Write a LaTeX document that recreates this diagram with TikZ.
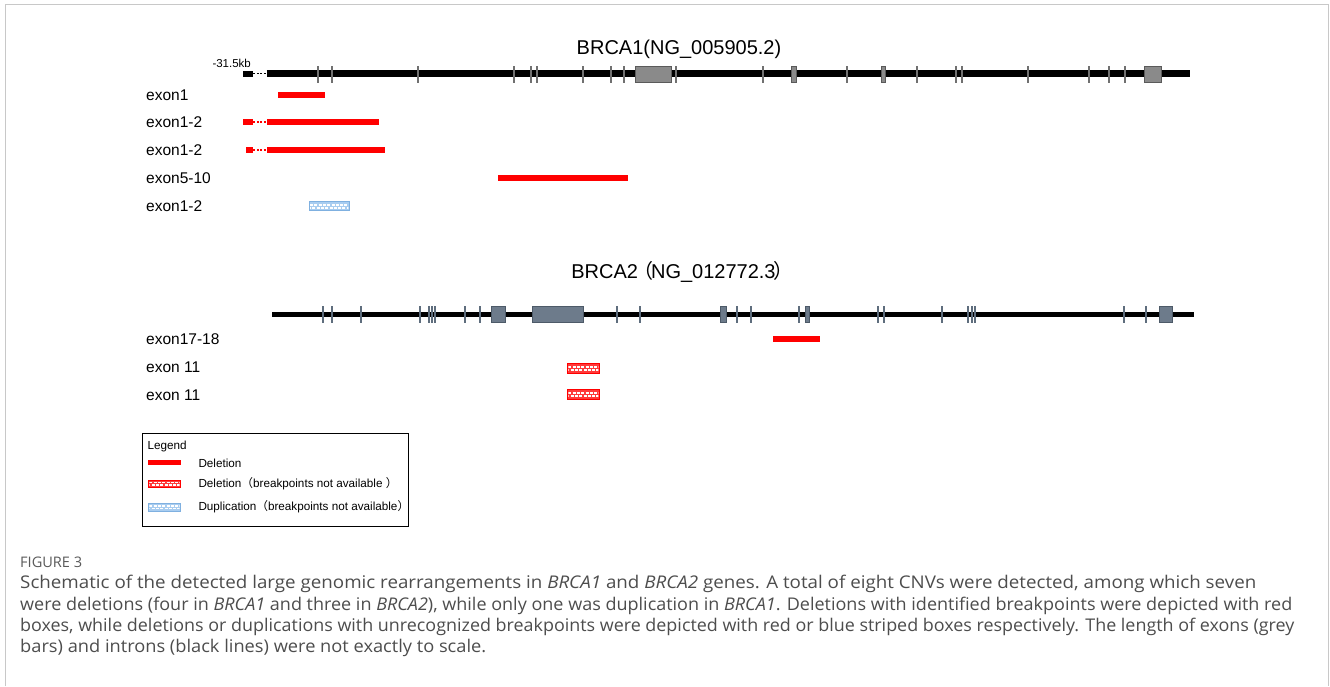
\documentclass[tikz,border=0pt]{standalone}
\usepackage{fontspec}
\usepackage{graphicx}
\setmainfont{Liberation Sans}
\newfontfamily\cjk{Noto Sans CJK SC}
\newfontfamily\capfont{Open Sans}
\definecolor{exA}{HTML}{8A8A8A}
\definecolor{exAd}{HTML}{5A5A5A}
\definecolor{tkA}{HTML}{707070}
\definecolor{exB}{HTML}{6D7B8B}
\definecolor{exBd}{HTML}{4D5A68}
\definecolor{tkB}{HTML}{5E6D7D}
\definecolor{delred}{HTML}{FF0000}
\definecolor{stred}{HTML}{FF3A3A}
\definecolor{dupfill}{HTML}{A9CDF0}
\definecolor{dupdraw}{HTML}{7FB0E0}
\definecolor{capgrey}{HTML}{4D4D4D}
\definecolor{figgrey}{HTML}{5A5A5A}
\definecolor{framec}{HTML}{C8C8C8}
\newcommand\mystripebox[6]{%
  \fill[#5] (#1,#2) rectangle (#3,#4);
  \begin{scope}
    \clip ({#1+1},{#2+1}) rectangle ({#3-1},{#4-1});
    \draw[white,line width=1.6pt,dash pattern=on 3pt off 1.3pt] ({#1+1},{#2+0.36*(#4-#2)}) -- (#3,{#2+0.36*(#4-#2)});
    \draw[white,line width=1.6pt,dash pattern=on 3pt off 1.3pt,dash phase=2pt] ({#1+1},{#2+0.68*(#4-#2)}) -- (#3,{#2+0.68*(#4-#2)});
  \end{scope}
  \draw[#6,line width=0.8pt] (#1,#2) rectangle (#3,#4);
}
\newcommand\capln[2]{\resizebox{#1pt}{\height}{\capfont\fontsize{17.5}{20}\selectfont #2}}
\begin{document}
\begin{tikzpicture}[x=1pt,y=-1pt,
  intron/.style={line width=6.5pt,black},
  ex1/.style={fill=exA,draw=exAd,line width=0.7pt},
  tk1/.style={draw=tkA,line width=2pt},
  ex2/.style={fill=exB,draw=exBd,line width=0.7pt},
  tk2/.style={draw=tkB,line width=2pt},
  delbar/.style={fill=delred},
  deldot/.style={draw=delred,line width=1.3pt,dash pattern=on 2pt off 1.5pt},
  lbl/.style={font=\fontsize{15.5}{18}\selectfont,inner sep=0pt,anchor=west},
  ttl/.style={font=\fontsize{20}{24}\selectfont,inner sep=0pt,anchor=base},
  leg/.style={font=\fontsize{11.7}{14}\selectfont,inner sep=0pt,anchor=base west},
  capline/.style={text=capgrey,inner sep=0pt,anchor=base west}]
\useasboundingbox (0,0) rectangle (1330,686);
\fill[white] (0,0) rectangle (1330,686);
% frame
\draw[framec,line width=1.5pt] (5.5,686) -- (5.5,4.5) -- (1328.5,4.5) -- (1328.5,686);

% ---------------- BRCA1 ----------------
\node[ttl] (t1) at (679,54) {BRCA1(NG\_005905.2)};
\node[font=\fontsize{11.5}{14}\selectfont,inner sep=0pt] (kb) at (231.7,63) {-31.5kb};
\fill (242.7,70.5) rectangle (253.3,77);
\draw[line width=1.2pt,dash pattern=on 2pt off 1.5pt] (253.3,73.7) -- (266.7,73.7);
\draw[intron] (266.7,73.7) -- (1190,73.7);
\foreach \x in {318.3,332.3,418.3,514.3,531,537.3,583.3,611,624.3,676,762.7,847.3,917.3,956,961.7,1027.7,1088.7,1109,1125.3}
  \draw[tk1] (\x,66) -- (\x,82.5);
\draw[ex1] (635,66.7) rectangle (671.7,82.3);
\draw[ex1] (791.7,66) rectangle (796.7,82.5);
\draw[ex1] (881,66) rectangle (885,82.5);
\draw[ex1] (1144,66.7) rectangle (1161,82.3);

\node[lbl] (r1) at (146,95) {exon1};
\node[lbl] (r2) at (146,122.5) {exon1-2};
\node[lbl] (r3) at (146,150.5) {exon1-2};
\node[lbl] (r4) at (146,178) {exon5-10};
\node[lbl] (r5) at (146,206) {exon1-2};

\fill[delbar] (278.3,91.5) rectangle (325,97.5);
\fill[delbar] (242.7,119) rectangle (253.3,125);
\draw[deldot] (253.3,122) -- (266.7,122);
\fill[delbar] (266.7,119) rectangle (379,125);
\fill[delbar] (246,147) rectangle (253.3,153);
\draw[deldot] (253.3,150) -- (266.7,150);
\fill[delbar] (266.7,147) rectangle (385,153);
\fill[delbar] (498,175) rectangle (628,181);
\mystripebox{309}{201.7}{349.3}{210.7}{dupfill}{dupdraw}

% ---------------- BRCA2 ----------------
\node[ttl] (t2) at (679,278) {BRCA2\kern-5pt{\cjk （}\kern-2pt NG\_012772.3\kern-2pt{\cjk ）}\kern-7pt};
\draw[intron,line width=5.8pt] (272.3,314.5) -- (1194.3,314.5);
\foreach \x in {323.3,332.3,361,420.3,429.3,431.7,435,464.7,479.7,617.3,640,737.3,750.7,799,877.7,884,941.7,968.3,971.7,975,1124.3,1146}
  \draw[tk2] (\x,306) -- (\x,322.7);
\draw[ex2] (491.7,306) rectangle (505,322.7);
\draw[ex2] (532.3,306) rectangle (583.3,322.7);
\draw[ex2] (720.7,306) rectangle (726.7,322.7);
\draw[ex2] (805.3,306) rectangle (809,322.7);
\draw[ex2] (1159.3,306) rectangle (1172.7,322.7);

\node[lbl] (s1) at (146,339.5) {exon17-18};
\node[lbl] (s2) at (146,367.5) {exon 11};
\node[lbl] (s3) at (146,395) {exon 11};
\fill[delbar] (773,336) rectangle (820,342);
\mystripebox{567.3}{363.3}{599.3}{373.3}{stred}{delred}
\mystripebox{567.3}{389.3}{599.3}{399.3}{stred}{delred}

% ---------------- Legend ----------------
\draw[black,line width=1pt] (142.7,433.3) rectangle (408.3,526.7);
\node[leg] (lg) at (147.3,449.5) {Legend};
\fill[delbar] (148,460.2) rectangle (180.7,464.5);
\node[leg] (lg1) at (198.3,467) {Deletion};
\mystripebox{148.3}{480}{180.7}{487.3}{stred}{delred}
\node[leg] (lg2) at (198.3,487.5) {Deletion{\cjk （}breakpoints not available {\cjk ）}};
\mystripebox{148.3}{503.3}{180.7}{511}{dupfill}{dupdraw}
\node[leg] (lg3) at (198.3,510.5) {Duplication{\cjk （}breakpoints not available{\cjk ）}};

% ---------------- Caption ----------------
\node[inner sep=0pt,anchor=base west,text=figgrey] (fig) at (20,567) {\resizebox{62pt}{!}{\capfont\fontsize{14}{16}\selectfont FIGURE 3}};
\node[capline] (c1) at (20,588.5) {\capln{1236}{Schematic of the detected large genomic rearrangements in \textit{BRCA1} and \textit{BRCA2} genes. A total of eight CNVs were detected, among which seven}};
\node[capline] (c2) at (20,610) {\capln{1272}{were deletions (four in \textit{BRCA1} and three in \textit{BRCA2}), while only one was duplication in \textit{BRCA1}. Deletions with identified breakpoints were depicted with red}};
\node[capline] (c3) at (20,631.3) {\capln{1274}{boxes, while deletions or duplications with unrecognized breakpoints were depicted with red or blue striped boxes respectively. The length of exons (grey}};
\node[capline] (c4) at (20,652.6) {\capln{466}{bars) and introns (black lines) were not exactly to scale.}};
\end{tikzpicture}
\end{document}
